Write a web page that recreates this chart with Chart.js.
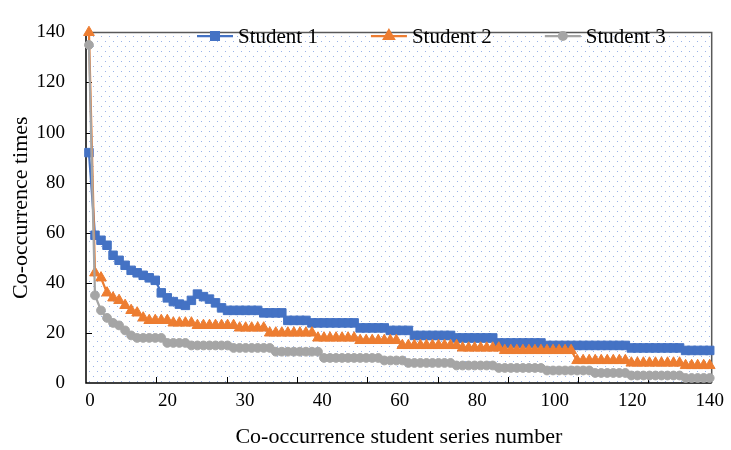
<!DOCTYPE html>
<html>
<head>
<meta charset="utf-8">
<script src="https://cdn.jsdelivr.net/npm/chart.js"></script>
<style>
  html, body { margin: 0; padding: 0; background: #fff; }
</style>
</head>
<body>
<canvas id="chart" width="731" height="450"></canvas>
<script>
// x axis labels as printed under the chart
const xLabels = ['0', '20', '30', '40', '60', '80', '100', '120', '140'];
const seriesNames = ['Student 1', 'Student 2', 'Student 3'];

// co-occurrence times (104 points per series)
const student1 = [
  92, 59, 57, 55, 51, 49, 47, 45, 44, 43, 42, 41, 36, 34, 32.5, 31.5, 31, 33, 35.5, 34.5, 33.5, 32, 30, 29,
  29, 29, 29, 29, 29,
  28, 28, 28, 28,
  25, 25, 25, 25,
  24, 24, 24, 24, 24, 24, 24, 24,
  22, 22, 22, 22, 22,
  21, 21, 21, 21,
  19, 19, 19, 19, 19, 19, 19,
  18, 18, 18, 18, 18, 18, 18,
  16, 16, 16, 16, 16, 16, 16, 16,
  15, 15, 15, 15, 15, 15, 15, 15, 15, 15, 15, 15, 15, 15,
  14, 14, 14, 14, 14, 14, 14, 14, 14,
  13, 13, 13, 13, 13
];
const student2 = [
  140, 44, 42, 36, 34, 33, 31, 29, 28, 26,
  25, 25, 25, 25,
  24, 24, 24, 24,
  23, 23, 23, 23, 23, 23, 23,
  22, 22, 22, 22, 22,
  20, 20, 20, 20, 20, 20, 20, 20,
  18, 18, 18, 18, 18, 18, 18,
  17, 17, 17, 17, 17, 17, 17,
  15, 15, 15, 15, 15, 15, 15, 15, 15, 15,
  14, 14, 14, 14, 14, 14, 14,
  13, 13, 13, 13, 13, 13, 13, 13, 13, 13, 13, 13,
  9, 9, 9, 9, 9, 9, 9, 9, 9,
  8, 8, 8, 8, 8, 8, 8, 8, 8,
  7, 7, 7, 7, 7
];
const student3 = [
  135, 35, 29, 26, 24, 23, 21, 19,
  18, 18, 18, 18, 18,
  16, 16, 16, 16,
  15, 15, 15, 15, 15, 15, 15,
  14, 14, 14, 14, 14, 14, 14,
  12.5, 12.5, 12.5, 12.5, 12.5, 12.5, 12.5, 12.5,
  10, 10, 10, 10, 10, 10, 10, 10, 10, 10,
  9, 9, 9, 9,
  8, 8, 8, 8, 8, 8, 8, 8,
  7, 7, 7, 7, 7, 7, 7,
  6, 6, 6, 6, 6, 6, 6, 6,
  5, 5, 5, 5, 5, 5, 5, 5,
  4, 4, 4, 4, 4, 4,
  3, 3, 3, 3, 3, 3, 3, 3, 3,
  2, 2, 2, 2, 2
];

const colors = ['#4472C4', '#ED7D31', '#A5A5A5'];
const markers = ['rect', 'triangle', 'circle'];
const markerSizes = [6, 6.2, 4.4];
const serif = "'Liberation Serif', 'Times New Roman', serif";

const toPoints = arr => arr.map((v, i) => ({ x: i, y: v }));

// light blue dotted fill behind the plot
function dotPattern(ctx) {
  const tile = document.createElement('canvas');
  tile.width = 8; tile.height = 10;
  const t = tile.getContext('2d');
  t.fillStyle = 'rgba(120,155,225,0.75)';
  t.fillRect(1, 1, 1, 1);
  t.fillRect(5, 6, 1, 1);
  return ctx.createPattern(tile, 'repeat');
}

const plotFrame = {
  id: 'plotFrame',
  beforeDatasetsDraw(chart) {
    const { ctx, chartArea: a, scales } = chart;
    ctx.save();
    ctx.fillStyle = dotPattern(ctx);
    ctx.fillRect(a.left, a.top, a.right - a.left, a.bottom - a.top);

    ctx.lineWidth = 1.5;
    ctx.strokeStyle = '#595959';
    ctx.beginPath();
    ctx.moveTo(a.left, a.top);
    ctx.lineTo(a.right, a.top);
    ctx.lineTo(a.right, a.bottom);
    ctx.stroke();

    ctx.strokeStyle = '#000';
    ctx.beginPath();
    ctx.moveTo(a.left, a.top);
    ctx.lineTo(a.left, a.bottom);
    ctx.lineTo(a.right, a.bottom);
    ctx.stroke();

    // tick marks point inward
    ctx.lineWidth = 1;
    ctx.beginPath();
    scales.y.ticks.forEach(tk => {
      if (tk.value <= 0 || tk.value >= 140) return;
      const py = Math.round(scales.y.getPixelForValue(tk.value)) + 0.5;
      ctx.moveTo(a.left, py);
      ctx.lineTo(a.left + 6, py);
    });
    scales.xt.ticks.forEach(tk => {
      if (tk.value <= 0 || tk.value >= scales.xt.max) return;
      const px = Math.round(scales.xt.getPixelForValue(tk.value)) + 0.5;
      ctx.moveTo(px, a.bottom);
      ctx.lineTo(px, a.bottom - 6);
    });
    ctx.stroke();
    ctx.restore();
  }
};

// legend sits inside the plot, line + marker + name
const insideLegend = {
  id: 'insideLegend',
  afterDraw(chart) {
    const { ctx } = chart;
    ctx.save();
    ctx.font = '21px ' + serif;
    ctx.textBaseline = 'middle';
    ctx.textAlign = 'left';
    let x = 197;
    const y = 36;
    seriesNames.forEach((name, i) => {
      ctx.strokeStyle = colors[i];
      ctx.fillStyle = colors[i];
      ctx.lineWidth = 2.25;
      ctx.beginPath();
      ctx.moveTo(x, y);
      ctx.lineTo(x + 36, y);
      ctx.stroke();
      Chart.helpers.drawPoint(ctx, { pointStyle: markers[i], radius: markerSizes[i] - 0.5, borderWidth: 1, rotation: 0 }, x + 18, y);
      ctx.fillStyle = '#000';
      ctx.fillText(name, x + 41, y + 1);
      x += 41 + ctx.measureText(name).width + 53;
    });
    ctx.restore();
  }
};

const datasets = [student1, student2, student3].map((arr, i) => ({
  label: seriesNames[i],
  data: toPoints(arr),
  borderColor: colors[i],
  backgroundColor: colors[i],
  borderWidth: 2.25,
  pointStyle: markers[i],
  pointRadius: markerSizes[i],
  pointBorderWidth: 1,
  pointBorderColor: colors[i],
  pointBackgroundColor: colors[i],
  tension: 0,
  clip: false,
  order: 3 - i,
  xAxisID: 'x',
  yAxisID: 'y'
}));

new Chart(document.getElementById('chart'), {
  type: 'line',
  data: { datasets },
  plugins: [plotFrame, insideLegend],
  options: {
    responsive: false,
    animation: false,
    layout: { padding: { left: 0, right: 14, top: 17, bottom: 0 } },
    plugins: { legend: { display: false }, tooltip: { enabled: false } },
    scales: {
      x: { type: 'linear', display: false, min: -0.49, max: 103.33 },
      xt: { type: 'linear', display: false, min: 0, max: 178, ticks: { stepSize: 20 } },
      xl: {
        type: 'linear',
        position: 'bottom',
        min: -0.0512,
        max: 8.026,
        afterBuildTicks: s => { s.ticks = xLabels.map((_, i) => ({ value: i })); },
        afterFit: s => { s.height = 67; },
        ticks: {
          callback: v => xLabels[v],
          font: { family: serif, size: 19 },
          color: '#000',
          padding: 7,
          maxRotation: 0,
          autoSkip: false
        },
        grid: { display: false, drawTicks: false },
        border: { display: false },
        title: {
          display: true,
          text: 'Co-occurrence student series number',
          font: { family: serif, size: 22 },
          color: '#000',
          padding: { top: 0, bottom: 0 }
        }
      },
      y: {
        min: 0,
        max: 140,
        afterFit: s => { s.width = 86; },
        ticks: { stepSize: 20, font: { family: serif, size: 19 }, color: '#000', padding: 21 },
        grid: { display: false, drawTicks: false },
        border: { display: false },
        title: {
          display: true,
          text: 'Co-occurrence times',
          font: { family: serif, size: 22 },
          color: '#000',
          padding: { top: 8, bottom: 0 }
        }
      }
    }
  }
});
</script>
</body>
</html>
